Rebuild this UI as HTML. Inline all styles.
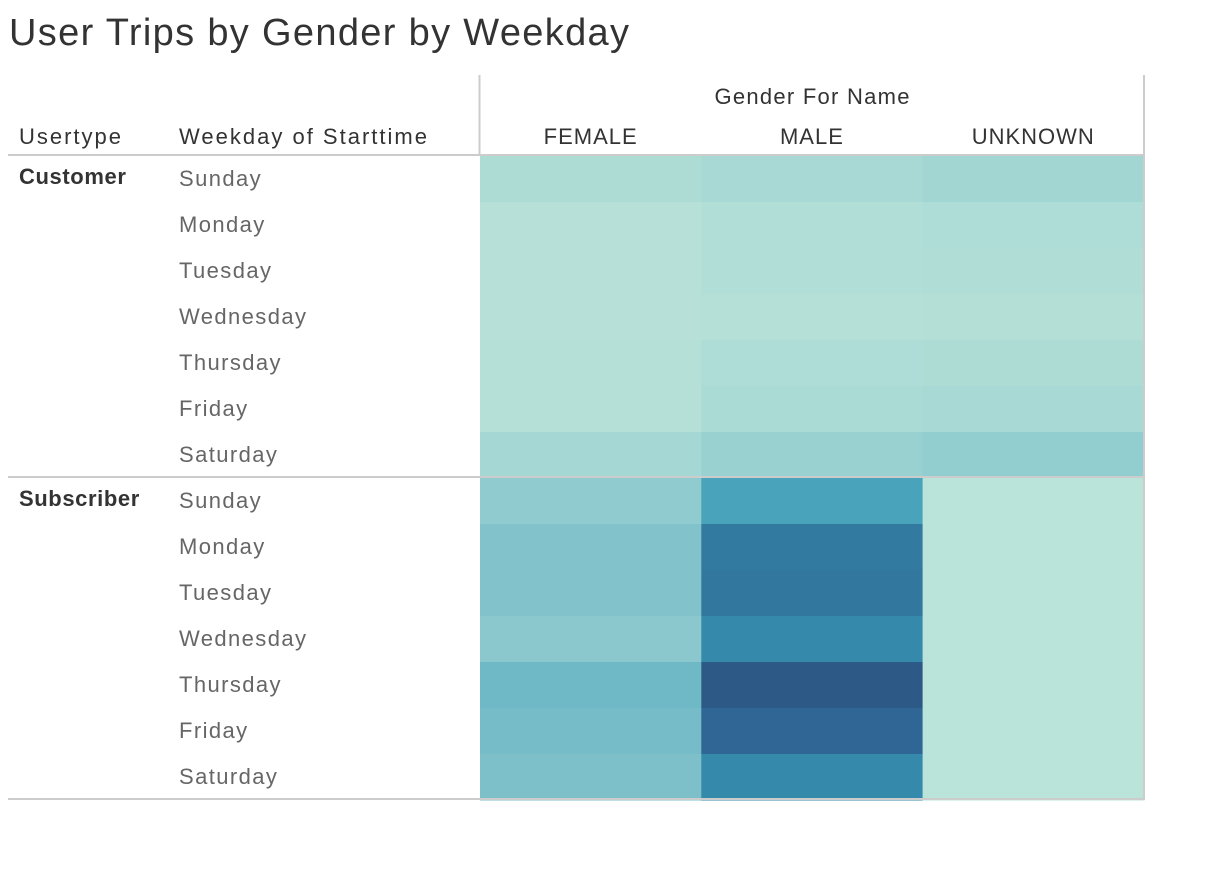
<!DOCTYPE html>
<html><head><meta charset="utf-8"><style>
body{margin:0;background:#fff;width:1218px;height:874px;overflow:hidden;font-family:"Liberation Sans",sans-serif;}
</style></head><body>
<svg width="1218" height="874" id="chart">
<text x="9" y="45" font-size="38" fill="#333" textLength="620" lengthAdjust="spacing">User Trips by Gender by Weekday</text>
<text x="812" y="104" font-size="22" text-anchor="middle" fill="#333" textLength="195" lengthAdjust="spacing">Gender For Name</text>
<text x="19" y="144" font-size="22" fill="#333" textLength="102" lengthAdjust="spacing">Usertype</text>
<text x="179" y="144" font-size="22" fill="#333" textLength="248" lengthAdjust="spacing">Weekday of Starttime</text>
<g id="cells"></g>
<g id="labels"></g>
<line x1="479.5" y1="75" x2="479.5" y2="155" stroke="#ccc" stroke-width="2"/>
<line x1="1144" y1="75" x2="1144" y2="799" stroke="#ccc" stroke-width="2"/>
<line x1="8" y1="155" x2="1145" y2="155" stroke="#ccc" stroke-width="2"/>
<line x1="8" y1="477" x2="1145" y2="477" stroke="#ccc" stroke-width="2"/>
<line x1="8" y1="799" x2="1145" y2="799" stroke="#ccc" stroke-width="2"/>
</svg>
<script>
const genders=["FEMALE","MALE","UNKNOWN"];
const usertypes=["Customer","Subscriber"];
const weekdays=["Sunday","Monday","Tuesday","Wednesday","Thursday","Friday","Saturday"];
const customerFemale=[10,3,3,3,5,5,15];
const customerMale=[13,7,7,5,9,11,23];
const customerUnknown=[17,9,8,6,10,13,27];
const subscriberFemale=[28,36,36,31,45,42,38];
const subscriberMale=[60,86,87,75,100,93,75];
const subscriberUnknown=[1,1,1,1,1,1,1];
const values=[[customerFemale,customerMale,customerUnknown],[subscriberFemale,subscriberMale,subscriberUnknown]];
const stops=[[0,"#bce4d9"],[0.25,"#96cfd0"],[0.45,"#6fb8c6"],[0.6,"#48a3bb"],[0.75,"#3589ab"],[0.86,"#327a9f"],[0.93,"#306695"],[1,"#2c5985"]];
function hex(h){return [1,3,5].map(i=>parseInt(h.substr(i,2),16));}
function color(v){const t=Math.max(0,Math.min(1,v/100));for(let i=1;i<stops.length;i++){if(t<=stops[i][0]){const a=stops[i-1],b=stops[i];const f=(t-a[0])/(b[0]-a[0]);const ca=hex(a[1]),cb=hex(b[1]);return "rgb("+ca.map((c,k)=>Math.round(c+(cb[k]-c)*f)).join(",")+")";}}return stops[stops.length-1][1];}
const NS="http://www.w3.org/2000/svg";
const x0=480,colW=221.3,y0=156,rowH=46;
function xPos(g){return x0+g*colW;}
function yPos(u,d){return y0+(u*7+d)*rowH;}
const cells=document.getElementById('cells'),labels=document.getElementById('labels');
genders.forEach((g,gi)=>{const t=document.createElementNS(NS,'text');t.setAttribute('x',xPos(gi)+colW/2);t.setAttribute('y',144);t.setAttribute('font-size','22');t.setAttribute('text-anchor','middle');t.setAttribute('fill','#333');t.setAttribute('letter-spacing','1');t.textContent=g;


labels.appendChild(t);});
usertypes.forEach((u,ui)=>{
const t=document.createElementNS(NS,'text');t.setAttribute('x',19);t.setAttribute('y',yPos(ui,0)+28);t.setAttribute('font-size','22');t.setAttribute('fill','#333');t.setAttribute('letter-spacing','0.6');t.setAttribute('font-weight','bold');t.textContent=u;


labels.appendChild(t);
weekdays.forEach((d,di)=>{
const w=document.createElementNS(NS,'text');w.setAttribute('x',179);w.setAttribute('y',yPos(ui,di)+30);w.setAttribute('font-size','22');w.setAttribute('fill','#666');w.setAttribute('letter-spacing','1.4');w.textContent=d;


labels.appendChild(w);
genders.forEach((g,gi)=>{
const r=document.createElementNS(NS,'rect');r.setAttribute('x',xPos(gi));r.setAttribute('y',yPos(ui,di));r.setAttribute('width',colW+0.5);r.setAttribute('height',rowH+0.5);r.setAttribute('fill',color(values[ui][gi][di]));


cells.appendChild(r);});});});
</script>
</body></html>
